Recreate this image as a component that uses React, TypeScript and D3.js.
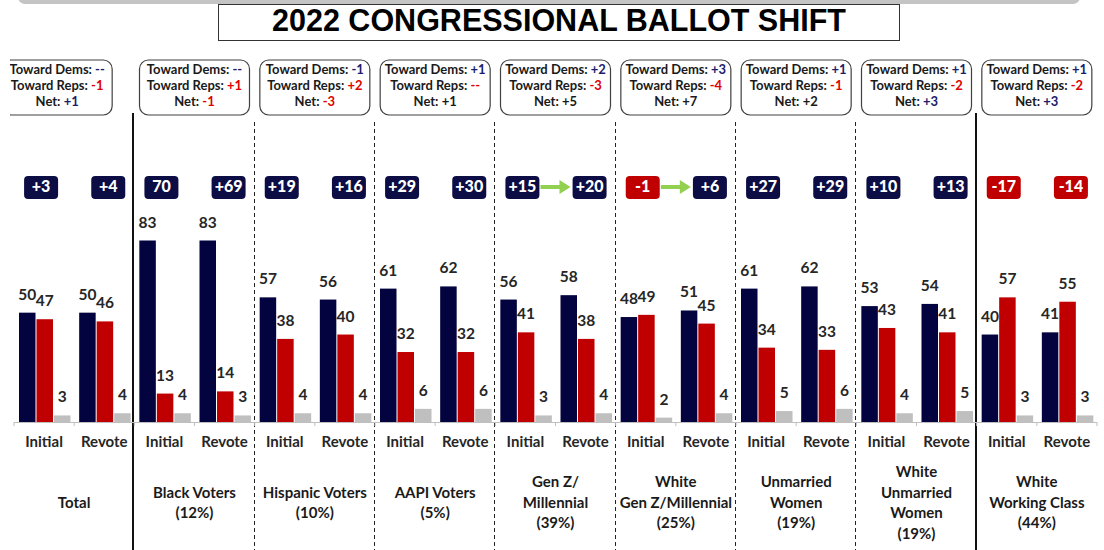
import React from 'react';
import * as d3 from 'd3';

// groups and values
const groups = [
  'Total',
  'Black Voters\n(12%)',
  'Hispanic Voters\n(10%)',
  'AAPI Voters\n(5%)',
  'Gen Z/\nMillennial\n(39%)',
  'White\nGen Z/Millennial\n(25%)',
  'Unmarried\nWomen\n(19%)',
  'White\nUnmarried\nWomen\n(19%)',
  'White\nWorking Class\n(44%)',
];
const rounds = ['Initial', 'Revote'];

const demInitial = [50, 83, 57, 61, 56, 48, 61, 53, 40];
const repInitial = [47, 13, 38, 32, 41, 49, 34, 43, 57];
const othInitial = [3, 4, 4, 6, 3, 2, 5, 4, 3];
const demRevote = [50, 83, 56, 62, 58, 51, 62, 54, 41];
const repRevote = [46, 14, 40, 32, 38, 45, 33, 41, 55];
const othRevote = [4, 3, 4, 6, 4, 4, 6, 5, 3];

const marginInitial = ['+3', '70', '+19', '+29', '+15', '-1', '+27', '+10', '-17'];
const marginRevote = ['+4', '+69', '+16', '+30', '+20', '+6', '+29', '+13', '-14'];

const towardDems = ['--', '--', '-1', '+1', '+2', '+3', '+1', '+1', '+1'];
const towardReps = ['-1', '+1', '+2', '--', '-3', '-4', '-1', '-2', '-2'];
const netShift = ['+1', '-1', '-3', '+1', '+5', '+7', '+2', '+3', '+3'];
const netTone = ['dem', 'rep', 'rep', 'plain', 'plain', 'plain', 'plain', 'dem', 'dem'];

const arrowGroups = [4, 5];
const solidAfter = [0, 7];

const NAVY = '#03033f';
const RED = '#c00000';
const GREY = '#bfbfbf';
const TXT_NAVY = '#1c1c6b';
const TXT_RED = '#e00000';
const FONT = 'Lato, "Open Sans", sans-serif';

const W = 1104;
const H = 550;
const axisY = 422;

export default function App() {
  const cats = groups.flatMap((g, gi) =>
    rounds.map((r, ri) => ({
      key: `${gi}-${ri}`,
      gi,
      ri,
      round: r,
      vals: ri === 0
        ? [demInitial[gi], repInitial[gi], othInitial[gi]]
        : [demRevote[gi], repRevote[gi], othRevote[gi]],
      margin: ri === 0 ? marginInitial[gi] : marginRevote[gi],
    }))
  );

  const x = d3.scaleBand().domain(cats.map((c) => c.key)).range([14, 1097]);
  const inner = d3.scaleBand().domain(['dem', 'rep', 'oth']).range([5, 56.5]).paddingInner(0.057);
  const y = d3.scaleLinear().domain([0, 83]).range([axisY, 240.5]);
  const colors = [NAVY, RED, GREY];
  const bw = x.bandwidth();

  const groupCenter = (gi: number) => (x(`${gi}-0`) as number) + bw;
  const groupRight = (gi: number) => (x(`${gi}-1`) as number) + bw;

  const toneColor = (t: string) => (t === 'dem' ? TXT_NAVY : t === 'rep' ? TXT_RED : '#1a1a1a');

  return (
    <svg width={W} height={H} style={{ position: 'absolute', left: 0, top: 0, background: '#fff' }}>
      <defs>
        <clipPath id="leftClip">
          <rect x={10} y={0} width={W} height={H} />
        </clipPath>
      </defs>

      {/* top strip + title */}
      <rect x={18} y={-10} width={1062} height={14} rx={7} fill="#c4c4c4" />
      <rect x={218.5} y={4.5} width={681} height={36} fill="#fff" stroke="#333" strokeWidth={1} />
      <text x={559} y={23} textAnchor="middle" dominantBaseline="middle"
        fontFamily='"Liberation Sans", Arial, sans-serif' fontWeight="bold" fontSize={30.5} fill="#000">
        2022 CONGRESSIONAL BALLOT SHIFT
      </text>

      {/* dividers */}
      {groups.slice(0, -1).map((g, gi) => {
        const solid = solidAfter.includes(gi);
        const lx = solid ? Math.round(groupRight(gi) - 1) : Math.round(groupRight(gi) - 1) + 0.5;
        return (
          <line key={`div${gi}`} x1={lx} x2={lx} y1={solid ? 113 : 122} y2={H}
            stroke={solid ? '#111' : '#222'} strokeWidth={solid ? 2 : 1}
            strokeDasharray={solid ? undefined : '4,3'} />
        );
      })}

      {/* shift boxes */}
      {groups.map((g, gi) => {
        const cx = gi === 0 ? groupCenter(gi) - 17 : groupCenter(gi);
        return (
          <g key={`box${gi}`} clipPath={gi === 0 ? 'url(#leftClip)' : undefined} fontFamily={FONT} fontWeight="bold" fontSize={13}>
            <rect x={cx - 55} y={60} width={110} height={55} rx={9} fill="#fff" stroke="#404040" strokeWidth={1.2} />
            <text x={cx} y={71} textAnchor="middle" dominantBaseline="middle" fill="#1a1a1a">
              Toward Dems: <tspan fill={TXT_NAVY}>{towardDems[gi]}</tspan>
            </text>
            <text x={cx} y={87} textAnchor="middle" dominantBaseline="middle" fill="#1a1a1a">
              Toward Reps: <tspan fill={TXT_RED}>{towardReps[gi]}</tspan>
            </text>
            <text x={cx} y={103} textAnchor="middle" dominantBaseline="middle" fill="#1a1a1a">
              Net: <tspan fill={toneColor(netTone[gi])}>{netShift[gi]}</tspan>
            </text>
          </g>
        );
      })}

      {/* margin badges */}
      {cats.map((c) => {
        const cx = (x(c.key) as number) + bw / 2 + (c.ri === 0 ? -3 : 4);
        const neg = c.margin.startsWith('-');
        return (
          <g key={`badge${c.key}`}>
            <rect x={cx - 17} y={176} width={34} height={23} rx={4} fill={neg ? RED : '#0d0d45'} />
            <text x={cx} y={188} textAnchor="middle" dominantBaseline="middle" fill="#fff"
              fontFamily={FONT} fontWeight="900" fontSize={16}>{c.margin}</text>
          </g>
        );
      })}

      {/* arrows */}
      {arrowGroups.map((gi) => {
        const cx = groupCenter(gi);
        const ay = 187;
        return (
          <path key={`arr${gi}`} fill="#92d050"
            d={`M${cx - 15},${ay - 2} L${cx + 4},${ay - 2} L${cx + 4},${ay - 7} L${cx + 15},${ay} L${cx + 4},${ay + 7} L${cx + 4},${ay + 2} L${cx - 15},${ay + 2} Z`} />
        );
      })}

      {/* bars */}
      {cats.map((c) => (
        <g key={`bars${c.key}`} transform={`translate(${x(c.key)},0)`}>
          {c.vals.map((v, i) => {
            const k = ['dem', 'rep', 'oth'][i];
            const bx = inner(k) as number;
            return (
              <g key={k}>
                <rect x={bx} y={y(v)} width={inner.bandwidth()} height={axisY - y(v)} fill={colors[i]} />
                <text x={bx + inner.bandwidth() / 2} y={y(v) - 13} textAnchor="middle"
                  fontFamily={FONT} fontWeight="bold" fontSize={15.5} fill="#262626">{v}</text>
              </g>
            );
          })}
        </g>
      ))}

      {/* axis */}
      <line x1={14} x2={1097} y1={axisY + 0.5} y2={axisY + 0.5} stroke={GREY} strokeWidth={1} />
      {[...cats.map((c) => x(c.key) as number), 1097].map((tx, i) => (
        <line key={`tick${i}`} x1={tx} x2={tx} y1={axisY} y2={axisY + 4} stroke={GREY} strokeWidth={1} />
      ))}

      {/* category labels */}
      {cats.map((c) => (
        <text key={`cl${c.key}`} x={(x(c.key) as number) + bw / 2} y={443} textAnchor="middle"
          dominantBaseline="middle" fontFamily={FONT} fontWeight="bold" fontSize={15} fill="#262626">
          {c.round}
        </text>
      ))}

      {/* group labels */}
      {groups.map((g, gi) => {
        const lines = g.split('\n');
        const lh = 20.5;
        const top = 504 - ((lines.length - 1) * lh) / 2;
        return (
          <text key={`gl${gi}`} textAnchor="middle" fontFamily={FONT} fontWeight="bold" fontSize={15} fill="#1a1a1a">
            {lines.map((ln, li) => (
              <tspan key={li} x={groupCenter(gi)} y={top + li * lh} dominantBaseline="middle">{ln}</tspan>
            ))}
          </text>
        );
      })}
    </svg>
  );
}
